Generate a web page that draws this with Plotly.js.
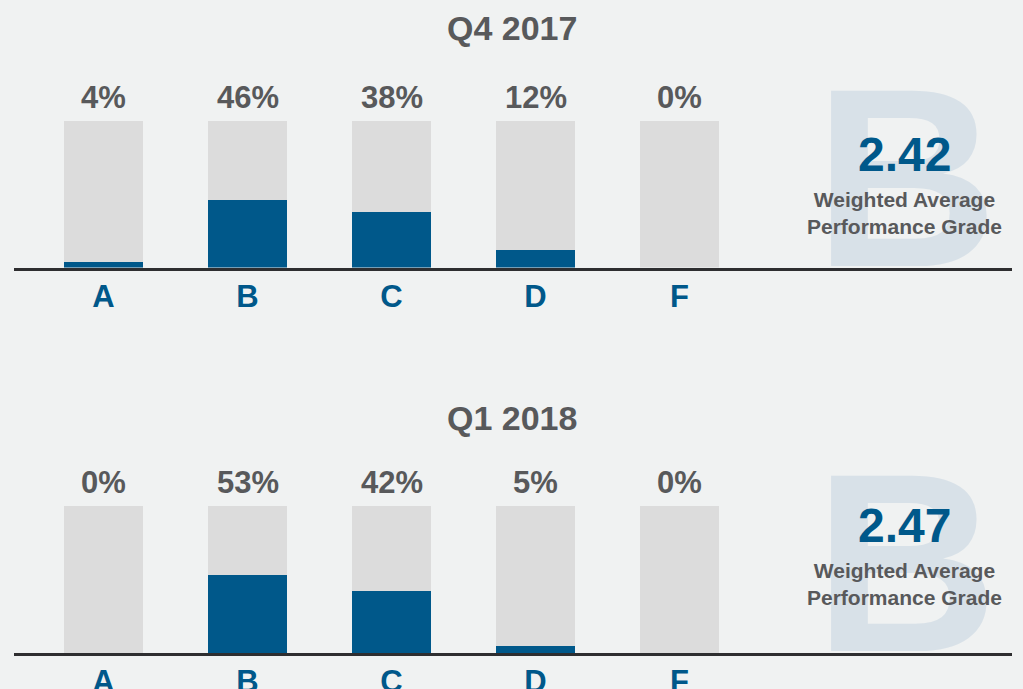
<!DOCTYPE html>
<html>
<head>
<meta charset="utf-8">
<script src="https://cdn.plot.ly/plotly-3.0.1.min.js"></script>
<style>html,body{margin:0;padding:0;background:#f0f2f2;}#chart{width:1023px;height:689px;}</style>
</head>
<body>
<div id="chart"></div>
<script>
// ---- data ----
const grades = ['A', 'B', 'C', 'D', 'F'];
const periods = ['Q4 2017', 'Q1 2018'];
const shareQ4_2017 = [4, 46, 38, 12, 0];
const shareQ1_2018 = [0, 53, 42, 5, 0];
const fullScale = [100, 100, 100, 100, 100];
const avgScore = [2.42, 2.47];
const avgLetter = ['B', 'B'];
const avgCaption = 'Weighted Average<br>Performance Grade';

// ---- styling ----
const BG = '#f0f2f2', TRACK = '#dcdcdc', BLUE = '#00588a', GREY = '#58595b', BIGB = '#d8e1e8';
const FONT = 'Liberation Sans, Arial, sans-serif';
const NARROW = 'Liberation Sans Narrow, Liberation Sans, Arial, sans-serif';

const panels = [
  {vals: shareQ4_2017, xa: 'x', ya: 'y', xo: 'x3', yo: 'y3', titleY: 1 - 28/689, scoreY: 1 - 154/689, capY: 1 - 213/689},
  {vals: shareQ1_2018, xa: 'x2', ya: 'y2', xo: 'x4', yo: 'y4', titleY: 1 - 417.5/689, scoreY: 1 - 525/689, capY: 1 - 584/689}
];

const traces = [];
const annotations = [];
panels.forEach((p, i) => {
  // big background letter (trace so that the axis line is drawn over it)
  traces.push({type: 'scatter', mode: 'text', x: [0.8938], y: [0.445], text: [avgLetter[i]],
    xaxis: p.xo, yaxis: p.yo, textposition: 'middle center', cliponaxis: false, hoverinfo: 'skip',
    textfont: {family: NARROW, size: 255, color: BIGB, weight: 700}, showlegend: false});
  traces.push({type: 'bar', x: grades, y: fullScale, xaxis: p.xa, yaxis: p.ya, width: 0.549,
    marker: {color: TRACK}, hoverinfo: 'skip', showlegend: false});
  traces.push({type: 'bar', x: grades, y: p.vals, xaxis: p.xa, yaxis: p.ya, width: 0.549,
    marker: {color: BLUE}, showlegend: false});
  grades.forEach((g, k) => {
    annotations.push({xref: p.xa, yref: p.ya, x: g, y: 100, yanchor: 'middle', yshift: 24,
      showarrow: false, text: p.vals[k] + '%', font: {family: FONT, size: 31, color: GREY, weight: 700}});
  });
  annotations.push({xref: 'paper', yref: 'paper', x: 0.5, y: p.titleY, xanchor: 'center', yanchor: 'middle',
    showarrow: false, text: periods[i], font: {family: FONT, size: 34, color: GREY, weight: 700}});
  annotations.push({xref: 'paper', yref: 'paper', x: 904/1023, y: p.scoreY, xanchor: 'center', yanchor: 'middle',
    showarrow: false, text: avgScore[i].toFixed(2), font: {family: FONT, size: 48, color: BLUE, weight: 700}});
  annotations.push({xref: 'paper', yref: 'paper', x: 904/1023, y: p.capY, xanchor: 'center', yanchor: 'middle',
    showarrow: false, text: avgCaption, font: {family: FONT, size: 21, color: GREY, weight: 700}});
});

const xDom = [14/1023, 1012/1023];
const xRange = [-0.6215, 6.309];
function xAxis() {
  return {domain: xDom, range: xRange, type: 'category', showgrid: false, zeroline: false,
    showline: true, linecolor: '#2e2e30', linewidth: 3, ticks: '', fixedrange: true,
    tickfont: {family: FONT, size: 31, color: BLUE, weight: 700}, ticklabelstandoff: -1};
}
function yAxis(dom) {
  return {domain: dom, range: [0, 100], visible: false, fixedrange: true};
}
const ovX = (base) => ({overlaying: base, range: [0, 1], visible: false, fixedrange: true});
const ovY = (base) => ({overlaying: base, range: [0, 1], visible: false, fixedrange: true});

const layout = {
  width: 1023, height: 689, margin: {l: 0, r: 0, t: 0, b: 0},
  paper_bgcolor: BG, plot_bgcolor: 'rgba(0,0,0,0)',
  barmode: 'overlay', bargap: 0,
  xaxis: Object.assign(xAxis(), {anchor: 'y'}),
  yaxis: Object.assign(yAxis([1 - 267.5/689, 1 - 121/689]), {anchor: 'x'}),
  xaxis2: Object.assign(xAxis(), {anchor: 'y2'}),
  yaxis2: Object.assign(yAxis([1 - 653/689, 1 - 506/689]), {anchor: 'x2'}),
  xaxis3: Object.assign(ovX('x'), {anchor: 'y3'}),
  yaxis3: Object.assign(ovY('y'), {anchor: 'x3'}),
  xaxis4: Object.assign(ovX('x2'), {anchor: 'y4'}),
  yaxis4: Object.assign(ovY('y2'), {anchor: 'x4'}),
  annotations: annotations,
  font: {family: FONT}
};

Plotly.newPlot('chart', traces, layout, {displayModeBar: false, staticPlot: true});
</script>
</body>
</html>
